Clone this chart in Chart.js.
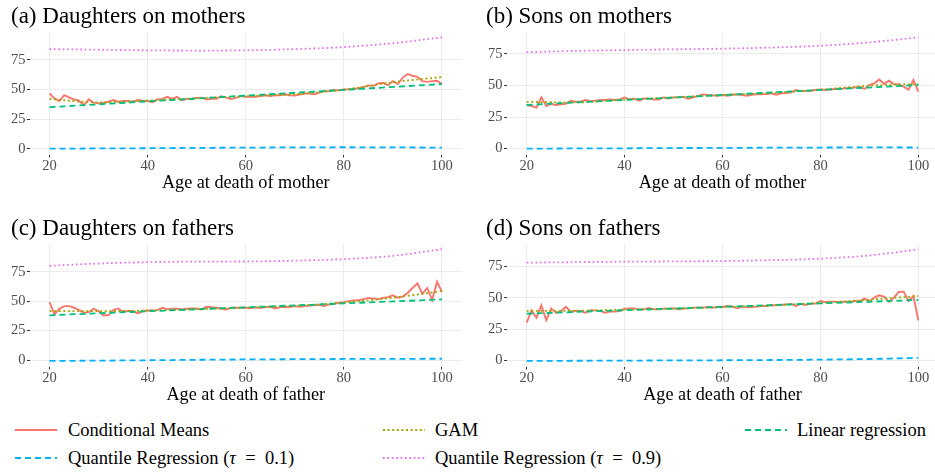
<!DOCTYPE html>
<html><head><meta charset="utf-8">
<script src="https://cdn.jsdelivr.net/npm/chart.js@4.4.1/dist/chart.umd.min.js"></script>
<style>
html,body{margin:0;padding:0;background:#fff;}
body{width:935px;height:473px;overflow:hidden;position:relative;font-family:"Liberation Serif","Times New Roman",serif;}
.panel{position:absolute;}
.lg{position:absolute;height:22px;line-height:22px;font-size:18.5px;color:#000;white-space:nowrap;font-family:"Liberation Serif","Times New Roman",serif;}
</style></head><body>
<canvas id="c0" class="panel" width="455" height="200" style="left:10.5px;top:0px"></canvas>
<canvas id="c1" class="panel" width="460" height="200" style="left:486px;top:0px"></canvas>
<canvas id="c2" class="panel" width="455" height="200" style="left:10.5px;top:212px"></canvas>
<canvas id="c3" class="panel" width="460" height="200" style="left:486px;top:212px"></canvas>
<div id="legend"></div>
<script>
// ---- categories / ticks ----
const ages = [20,21,22,23,24,25,26,27,28,29,30,31,32,33,34,35,36,37,38,39,40,41,42,43,44,45,46,47,48,49,50,51,52,53,54,55,56,57,58,59,60,61,62,63,64,65,66,67,68,69,70,71,72,73,74,75,76,77,78,79,80,81,82,83,84,85,86,87,88,89,90,91,92,93,94,95,96,97,98,99,100];
const smoothAges = [20,30,40,50,60,70,80,90,100];
const xTicks = [20,40,60,80,100];
const yTicks = [0,25,50,75];
const panelTitles = ["(a) Daughters on mothers","(b) Sons on mothers","(c) Daughters on fathers","(d) Sons on fathers"];
const xTitles = ["Age at death of mother","Age at death of mother","Age at death of father","Age at death of father"];
const seriesNames = ["Conditional Means","GAM","Linear regression","Quantile Regression (\u03C4 = 0.1)","Quantile Regression (\u03C4 = 0.9)"];

// ---- (a) Daughters on mothers ----
const condA = [46.6,42.4,40.2,45.2,43.3,41.6,40.5,36.8,41.6,38.8,38.2,38.8,39.6,41.0,39.6,40.2,40.2,39.6,41.0,40.5,40.2,39.2,41.5,42.0,43.7,42.0,43.7,40.9,42.0,42.0,42.9,43.1,41.5,42.0,42.0,44.3,43.1,42.0,42.9,44.3,43.7,43.7,43.7,44.5,45.1,44.5,45.1,45.1,45.9,45.1,44.8,45.7,46.5,46.5,45.9,47.3,48.5,48.7,49.3,49.3,49.9,50.0,50.5,51.0,52.0,53.4,53.0,55.0,55.6,53.6,57.0,54.5,60.0,63.0,61.5,60.6,57.0,56.4,57.0,57.3,54.5];
const gamA = [42.0,39.0,40.5,42.6,44.3,46.0,49.8,56.0,60.5];
const linA = [35.0,37.4,39.9,42.3,44.8,47.2,49.6,52.1,54.5];
const q10A = [0.0,0.2,0.4,0.7,0.9,1.1,1.2,1.1,0.9];
const q90A = [84.0,83.5,83.0,82.8,83.0,84.0,85.7,89.0,94.0];

// ---- (b) Sons on mothers ----
const condB = [34.5,33.7,32.4,40.5,33.7,35.3,34.5,35.0,35.5,37.9,37.1,37.1,38.4,37.6,37.9,38.4,38.4,38.9,38.4,38.9,40.5,38.9,39.5,37.9,39.7,39.5,38.9,38.9,40.5,39.7,40.5,40.5,41.0,39.5,40.5,41.6,42.9,42.4,42.1,41.8,42.4,41.8,42.6,42.9,42.4,41.8,42.6,43.2,42.9,43.2,43.7,42.6,43.7,44.0,44.5,46.3,45.5,45.5,45.8,46.3,46.8,46.3,46.8,47.1,47.4,47.6,47.9,48.2,48.9,47.2,50.3,51.6,54.7,51.3,53.7,51.0,51.0,49.0,46.6,54.2,45.0];
const gamB = [37.0,36.5,38.8,40.5,42.4,44.0,46.6,49.8,51.0];
const linB = [34.5,36.5,38.5,40.4,42.4,44.4,46.4,48.3,50.3];
const q10B = [0.0,0.2,0.3,0.5,0.6,0.8,0.9,1.0,0.9];
const q90B = [76.3,77.2,77.9,78.5,79.0,79.9,81.3,84.0,87.9];

// ---- (c) Daughters on fathers ----
const condC = [49.2,38.8,43.5,45.8,45.8,44.4,42.4,40.2,40.7,43.5,41.6,37.9,38.2,42.4,43.8,41.0,41.6,41.6,39.6,41.6,42.1,42.1,42.4,44.4,43.0,43.5,43.5,43.0,43.5,43.8,43.8,43.0,45.2,44.9,44.4,43.8,43.0,44.4,44.4,44.4,44.4,44.1,44.7,44.1,44.9,45.2,43.8,44.9,45.2,44.9,45.8,45.2,45.8,46.3,46.6,46.6,45.8,47.2,47.8,48.6,49.2,50.0,50.5,50.8,51.7,52.8,52.2,51.7,52.8,53.4,55.0,52.8,53.9,57.0,61.2,65.2,56.2,61.2,51.0,66.5,57.9];
const gamC = [41.6,41.5,42.0,43.2,44.5,46.0,48.8,53.0,58.5];
const linC = [38.0,39.7,41.4,43.1,44.8,46.4,48.1,49.8,51.5];
const q10C = [-0.8,-0.5,-0.2,0.2,0.5,0.7,0.9,1.0,1.1];
const q90C = [80.0,82.0,83.1,83.6,83.7,84.4,85.7,88.5,94.1];

// ---- (d) Sons on fathers ----
const condD = [30.1,40.0,34.1,44.0,32.0,41.6,37.9,39.3,42.9,38.9,39.5,39.5,38.1,40.0,40.0,39.5,38.1,39.0,39.0,39.5,41.3,41.6,41.6,40.8,40.8,41.9,40.8,40.8,41.4,41.4,41.6,40.8,41.4,41.6,42.2,42.2,42.2,42.7,42.2,42.7,42.7,43.5,43.0,41.6,43.0,42.4,42.7,43.0,43.5,43.5,44.3,44.0,44.3,44.8,45.1,43.5,45.1,44.3,45.4,45.4,47.5,46.7,47.0,47.0,46.7,47.0,46.7,47.5,47.2,49.4,47.2,50.2,52.0,51.0,46.7,50.2,54.7,55.0,47.5,51.5,32.0];
const gamD = [39.5,39.7,40.5,41.5,42.5,44.0,46.0,48.5,51.5];
const linD = [37.3,38.7,40.1,41.4,42.8,44.2,45.6,46.9,48.3];
const q10D = [-0.5,-0.4,-0.3,-0.1,0.0,0.2,0.5,1.0,1.9];
const q90D = [78.2,78.6,79.0,79.2,79.5,80.2,81.4,84.0,88.9];

// ---- styling ----
const COLORS = ["#F8766D","#A3A500","#00BF7D","#00B0F6","#E76BF3"];
const DASHES = [[], [2,2.6], [6,4], [6,4], [1.6,2.8]];
const FONT = "'Liberation Serif', 'Times New Roman', serif";

function pts(xs, ys){ return xs.map((x,i)=>({x:x, y:ys[i]})); }

function makePanel(id, idx, cond, gam, lin, q10, q90, yMin, yMax, yW, padR){
  const sets = [
    {data:pts(ages,cond), order:5},
    {data:pts(smoothAges,gam), order:4, cubicInterpolationMode:'monotone'},
    {data:pts(smoothAges,lin), order:3},
    {data:pts(smoothAges,q10), order:2, cubicInterpolationMode:'monotone'},
    {data:pts(smoothAges,q90), order:1, cubicInterpolationMode:'monotone'}
  ].map((d,i)=>Object.assign({
    label: seriesNames[i],
    borderColor: COLORS[i],
    backgroundColor: COLORS[i],
    borderWidth: i===0 ? 1.9 : 1.8,
    borderDash: DASHES[i],
    borderCapStyle: 'butt',
    pointRadius: 0,
    fill: false,
    tension: 0
  }, d));
  new Chart(document.getElementById(id), {
    type: 'line',
    data: {datasets: sets},
    options: {
      responsive: false,
      animation: false,
      devicePixelRatio: 1,
      layout: {padding: {left:0, right:padR, top:0, bottom:0}},
      plugins: {
        legend: {display:false},
        tooltip: {enabled:false},
        title: {display:true, text: panelTitles[idx], align:'start', color:'#000',
                font:{family:FONT, size:23, weight:'normal', lineHeight:1.2}, padding:{top:3, bottom:1.1}}
      },
      scales: {
        x: {
          type:'linear', min:16, max:104,
          afterBuildTicks: s => { s.ticks = xTicks.map(v=>({value:v})); },
          afterFit: s => { s.height = 45.5; },
          border: {display:false},
          grid: {color:'#EBEBEB', lineWidth:1, tickLength:3, tickColor:'#333333', drawTicks:true},
          ticks: {color:'#4D4D4D', font:{family:FONT, size:14.5}, padding:0, maxRotation:0},
          title: {display:true, text:xTitles[idx], color:'#000', font:{family:FONT, size:18.2, lineHeight:1.2}, padding:{top:0, bottom:5.6}}
        },
        y: {
          type:'linear', min:yMin, max:yMax,
          afterBuildTicks: s => { s.ticks = yTicks.map(v=>({value:v})); },
          afterFit: s => { s.width = yW; },
          border: {display:false},
          grid: {color:'#EBEBEB', lineWidth:1, tickLength:3, tickColor:'#333333', drawTicks:true},
          ticks: {color:'#4D4D4D', font:{family:FONT, size:14.5}, padding:1.5}
        }
      }
    }
  });
}

makePanel('c0', 0, condA, gamA, linA, q10A, q90A, -4.9, 98.7, 18.9, 4.4);
makePanel('c1', 1, condB, gamB, linB, q10B, q90B, -4.6, 92.4, 21.1, 8.1);
makePanel('c2', 2, condC, gamC, linC, q10C, q90C, -5.5, 98.8, 18.9, 4.4);
makePanel('c3', 3, condD, gamD, linD, q10D, q90D, -5.0, 93.4, 21.1, 8.1);

// ---- legend (HTML) ----
const legendPos = [
  {lx:15, tx:68, y:430},
  {lx:383, tx:435, y:430},
  {lx:745, tx:797, y:430},
  {lx:15, tx:68, y:458},
  {lx:383, tx:435, y:458}
];
const lg = document.getElementById('legend');
legendPos.forEach((p,i)=>{
  const svgNS = 'http://www.w3.org/2000/svg';
  const svg = document.createElementNS(svgNS,'svg');
  svg.setAttribute('width','42'); svg.setAttribute('height','6');
  svg.style.position='absolute'; svg.style.left=p.lx+'px'; svg.style.top=(p.y-3)+'px';
  const ln = document.createElementNS(svgNS,'line');
  ln.setAttribute('x1','0'); ln.setAttribute('x2','42'); ln.setAttribute('y1','3'); ln.setAttribute('y2','3');
  ln.setAttribute('stroke', COLORS[i]); ln.setAttribute('stroke-width', i===0?'2':'1.8');
  if (DASHES[i].length) ln.setAttribute('stroke-dasharray', DASHES[i].join(' '));
  svg.appendChild(ln);
  lg.appendChild(svg);
  const t = document.createElement('div');
  t.className='lg'; t.style.left=p.tx+'px'; t.style.top=(p.y-11)+'px';
  const name = seriesNames[i];
  if (name.indexOf('\u03C4')>=0){
    // "Quantile Regression (" + italic tau + " = 0.x)" with math-style spacing around "="
    const parts = name.split('\u03C4');
    t.appendChild(document.createTextNode(parts[0]));
    const em = document.createElement('i'); em.textContent='\u03C4'; t.appendChild(em);
    t.appendChild(document.createTextNode(parts[1].replace(' = ', '\u2002=\u2002')));
  } else t.textContent = name;
  lg.appendChild(t);
});
</script>
</body></html>
